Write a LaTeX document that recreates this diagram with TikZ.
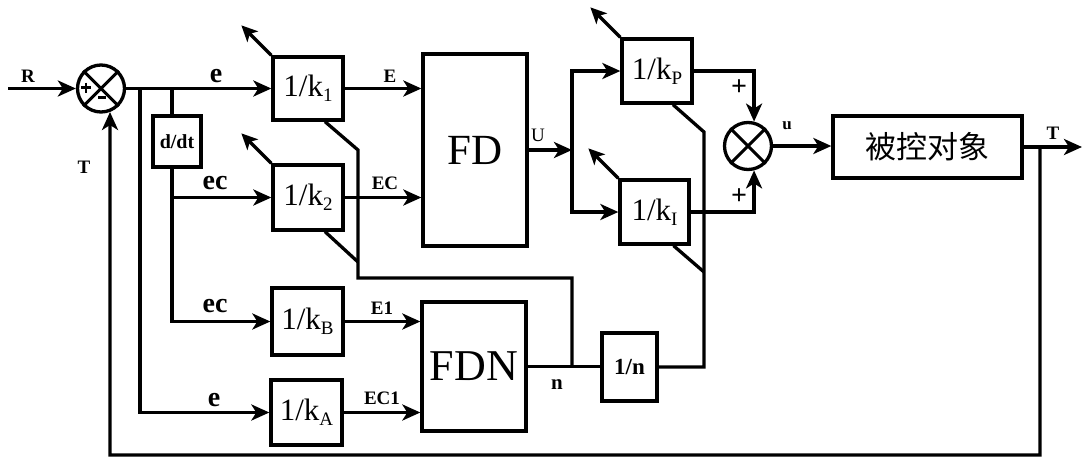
\documentclass[tikz,border=0pt]{standalone}
\usepackage{fontspec}
\setmainfont{Liberation Serif}
\newfontfamily\cjk{Noto Sans CJK SC}
\usetikzlibrary{arrows.meta,calc}
\newcommand{\fsz}[1]{\fontsize{#1pt}{#1pt}\selectfont}
\newcommand{\gain}[1]{\fsz{31}1/k\raisebox{-5pt}{\fsz{19}#1}}
\tikzset{
  ln/.style={line width=3.3pt},
  arr/.style={ln, -{Stealth[length=18pt,width=16pt,inset=5pt]}},
  oarr/.style={ln, -{Stealth[length=16pt,width=15pt,inset=4pt]}},
  blk/.style={draw, line width=3.3pt, inner sep=0pt, fill=white},
  sumc/.style={draw, circle, line width=3.3pt, inner sep=0pt},
  lab/.style={font=\bfseries\fsz{19}, inner sep=0pt},
  blab/.style={font=\bfseries\fsz{28}, inner sep=0pt},
}
\begin{document}
\begin{tikzpicture}[x=1pt,y=-1pt]
\useasboundingbox (0,0) rectangle (1082,458);
\fill[white] (0,0) rectangle (1082,458);
% blocks
\node[blk, minimum width=70pt, minimum height=63pt] (k1) at (308,88.5) {\gain{1}};
\node[blk, minimum width=70pt, minimum height=65pt] (k2) at (308,197.5) {\gain{2}};
\node[blk, minimum width=71pt, minimum height=67pt] (kB) at (307.5,321.5) {\gain{B}};
\node[blk, minimum width=71pt, minimum height=65pt] (kA) at (306.5,412.5) {\gain{A}};
\node[blk, minimum width=48pt, minimum height=51pt, font=\bfseries\fsz{20}] (ddt) at (177,141.5) {d/dt};
\node[blk, minimum width=104pt, minimum height=192pt, font=\fsz{43}] (FD) at (475,150) {FD};
\node[blk, minimum width=104pt, minimum height=129pt, font=\fsz{44}] (FDN) at (474,366.5) {FDN};
\node[blk, minimum width=70pt, minimum height=64pt] (kP) at (657,71) {\gain{P}};
\node[blk, minimum width=69pt, minimum height=64pt] (kI) at (654.5,212) {\gain{I}};
\node[blk, minimum width=55pt, minimum height=68pt, font=\bfseries\fsz{23}] (ninv) at (629.5,367) {1/n};
\node[blk, minimum width=189pt, minimum height=62pt, font=\cjk\fsz{31}] (plant) at (927.5,147) {被控对象};
\node[sumc, minimum size=47pt] (s1) at (101,88.5) {};
\node[sumc, minimum size=47pt] (s2) at (748,146) {};
% sum symbols
\draw[line width=3pt] (s1.45) -- (s1.225) (s1.135) -- (s1.-45);
\draw[line width=3pt] (s2.45) -- (s2.225) (s2.135) -- (s2.-45);
\draw[line width=2.6pt] ($(s1.center)+(-20,-1)$) -- ($(s1.center)+(-10,-1)$)
                        ($(s1.center)+(-15,-6)$) -- ($(s1.center)+(-15,4)$);
\draw[line width=2.8pt] ($(s1.center)+(-3,9)$) -- ($(s1.center)+(5,9)$);
% coordinates
\coordinate (Rin) at (8,88.5);
\coordinate (ja) at (140,88.5);
\coordinate (jb) at (172,88.5);
\coordinate (jc) at (172,197.5);
\coordinate (uj) at (572,150);
\coordinate (tj) at (1040,147);
\coordinate (Tend) at (1082,147);
\coordinate (fb) at (110,455);
\coordinate (dA) at (358,150);
\coordinate (dB) at (358,262);
\coordinate (dC) at (358,278);
\coordinate (rA) at (704,132);
\coordinate (rB) at (704,272);
\coordinate (k1o) at ($(k1.north west)+(-30,-30)$);
\coordinate (k2o) at ($(k2.north west)+(-30,-30)$);
\coordinate (kPo) at ($(kP.north west)+(-30,-30)$);
\coordinate (kIo) at ($(kI.north west)+(-30,-30)$);
% connectors
\draw[arr] (Rin) -- (s1.west);
\draw[arr] (s1.east) -- (s1.east -| k1.west);
\draw[arr] (ja) |- (kA.west);
\draw[ln] (jb) -- (jb |- ddt.north);
\draw[arr] (jb |- ddt.south) |- (kB.west);
\draw[arr] (jc) -- (jc -| k2.west);
\draw[arr] (k1.east) -- (k1.east -| FD.west);
\draw[arr] (k2.east) -- (k2.east -| FD.west);
\draw[arr] (kB.east) -- (kB.east -| FDN.west);
\draw[arr] (kA.east) -- (kA.east -| FDN.west);
\draw[arr] (FD.east) -- (uj);
\draw[arr] (uj) |- (kP.west);
\draw[arr] (uj) |- (kI.west);
\draw[arr] (kP.east) -| (s2.76);
\draw[arr] (kI.east) -| (s2.-76);
\draw[arr] (s2.east) -- (s2.east -| plant.west);
\draw[arr] (plant.east) -- (Tend);
\draw[arr] (tj) |- (fb) -- (s1.-69);
\draw[ln] (FDN.east) -- (FDN.east -| ninv.west);
\draw[ln] ($(k1.south)+(17,0)$) -- (dA) -- (dC) -| (uj |- FDN.east);
\draw[ln] ($(k2.south)+(17,0)$) -- (dB);
\draw[ln] ($(kP.south)+(16,0)$) -- (rA) |- (ninv.east);
\draw[ln] ($(kI.south)+(19,0)$) -- (rB);
\draw[oarr] (k1.north west) -- (k1o);
\draw[oarr] (k2.north west) -- (k2o);
\draw[oarr] (kP.north west) -- (kPo);
\draw[oarr] (kI.north west) -- (kIo);
% labels
\node[lab, font=\bfseries\fsz{19}] (lR) at (28,76) {R};
\node[lab, font=\bfseries\fsz{19}] (lT) at (84,167) {T};
\node[blab] (le1) at (216,76) {e};
\node[blab] (lec1) at (215,183) {ec};
\node[blab] (lec2) at (215,306) {ec};
\node[blab] (le2) at (214,400) {e};
\node[lab] (lE) at (390,76) {E};
\node[lab] (lEC) at (385,183) {EC};
\node[lab] (lE1) at (382,308) {E1};
\node[lab] (lEC1) at (382,398) {EC1};
\node[lab, font=\bfseries\fsz{21}] (ln) at (557,385) {n};
\node[lab, font=\fsz{19}] (lU) at (538,135) {U};
\node[lab, font=\bfseries\fsz{17}] (lu) at (787,126) {u};
\node[lab, font=\bfseries\fsz{19}] (lT2) at (1053,133) {T};
\node[lab, font=\bfseries\fsz{28}] (pp1) at (739,88) {+};
\node[lab, font=\bfseries\fsz{28}] (pp2) at (739,197) {+};
\end{tikzpicture}
\end{document}
